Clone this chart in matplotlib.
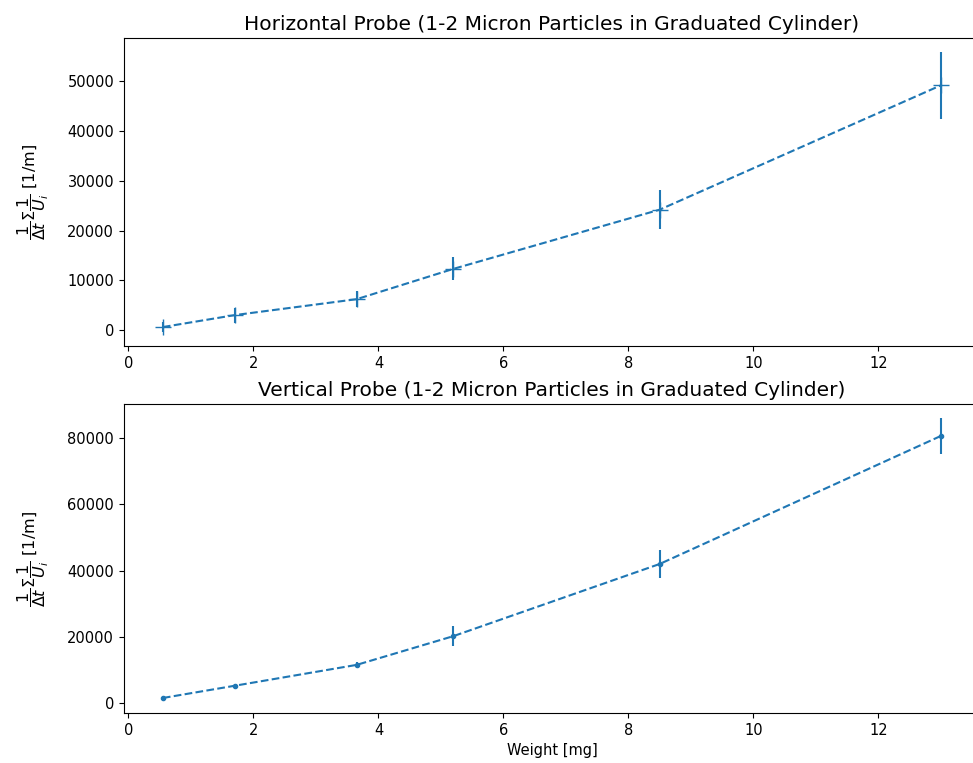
import matplotlib
matplotlib.use('Agg')
import matplotlib.pyplot as plt

# weights [mg]
weight = [0.55, 1.7, 3.65, 5.2, 8.5, 13.0]

# horizontal probe
horiz = [600, 3000, 6200, 12300, 24200, 49200]
horiz_err = [1000, 1500, 1600, 2300, 3900, 6700]

# vertical probe
vert = [1500, 5200, 11500, 20200, 42000, 80700]
vert_err = [300, 500, 800, 3000, 4300, 5400]

ylab = r'$\dfrac{1}{\Delta t}\Sigma\dfrac{1}{U_i}$ [1/m]'

fig = plt.figure(figsize=(9.73, 7.63), dpi=100)
ax1 = fig.add_axes([0.1274, 0.5465, 0.8796, 0.4037])
ax2 = fig.add_axes([0.1274, 0.0655, 0.8796, 0.4050])

ax1.errorbar(weight, horiz, yerr=horiz_err, fmt='+--', markersize=12)
ax1.set_title('Horizontal Probe (1-2 Micron Particles in Graduated Cylinder)', fontsize=14.5)
ax1.set_ylabel(ylab, fontsize=11.5, labelpad=12)

ax2.errorbar(weight, vert, yerr=vert_err, fmt='.--')
ax2.set_title('Vertical Probe (1-2 Micron Particles in Graduated Cylinder)', fontsize=14.5)
ax2.set_ylabel(ylab, fontsize=11.5, labelpad=12)
ax2.set_xlabel('Weight [mg]', fontsize=10.5)

for ax in (ax1, ax2):
    ax.tick_params(labelsize=10.5)

fig.savefig('out.png', dpi=100)
